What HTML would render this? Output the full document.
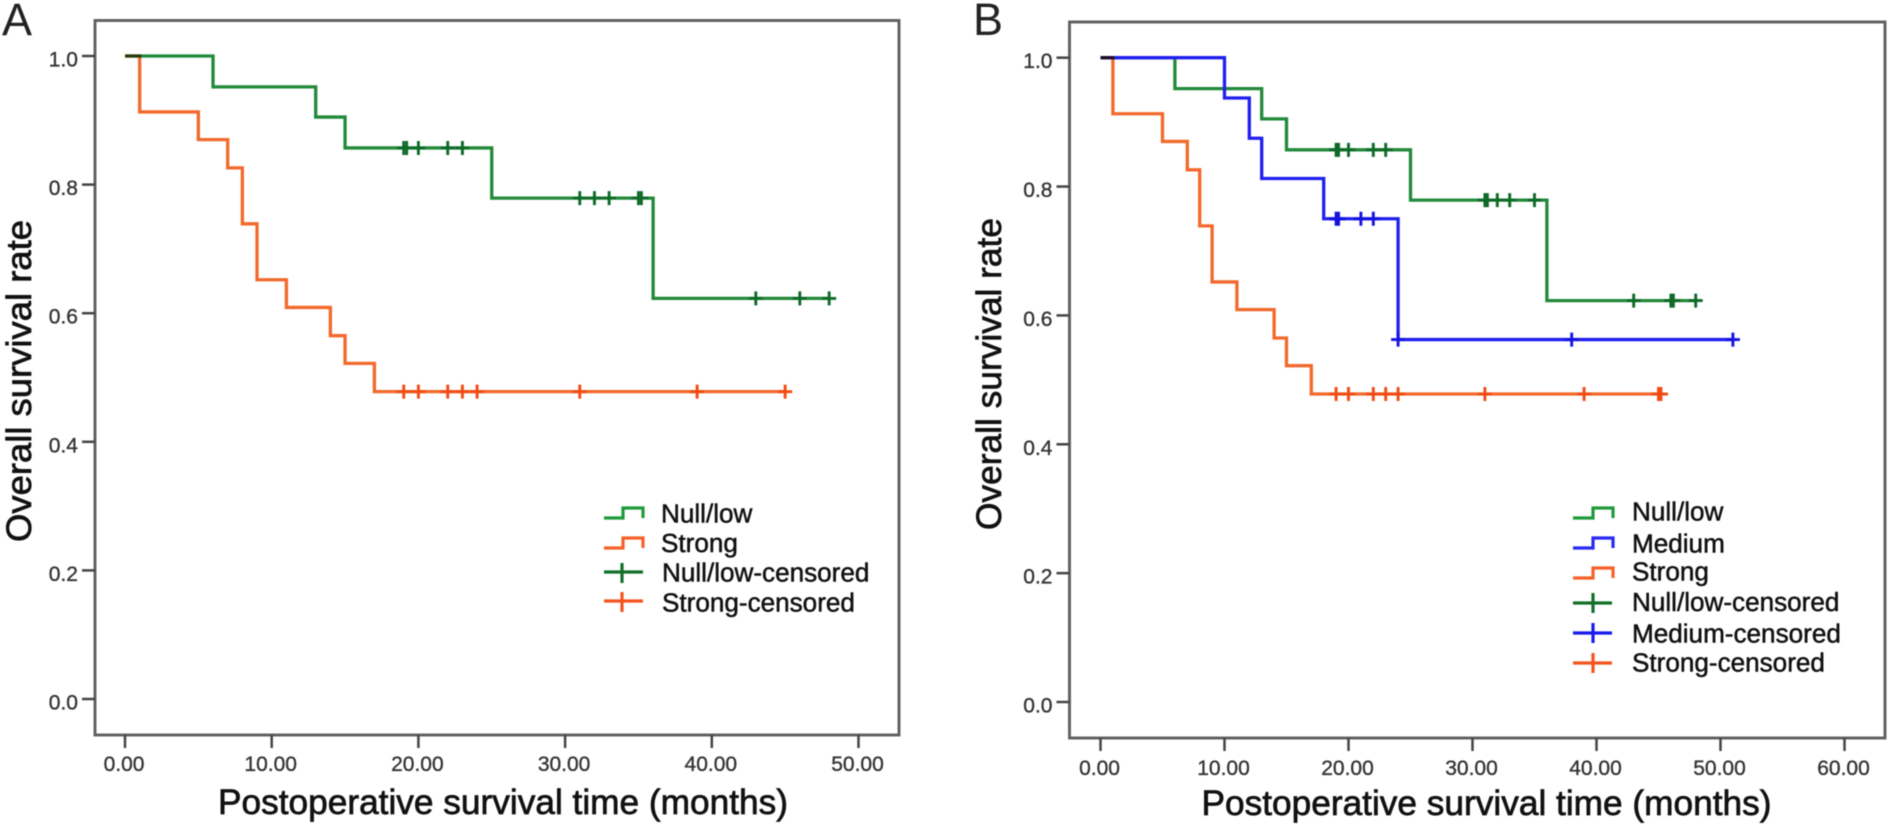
<!DOCTYPE html>
<html lang="en">
<head>
<meta charset="utf-8">
<title>Overall survival curves</title>
<style>
html,body{margin:0;padding:0;background:#fff;width:1890px;height:833px;overflow:hidden}
svg{display:block;filter:blur(0.6px)}
text{font-family:"Liberation Sans",Arial,sans-serif}
.tick-label{font-size:21px;fill:#333;stroke:#333;stroke-width:.35px}
.axis-title{font-size:35px;fill:#111;stroke:#111;stroke-width:.7px}
.legend-text{font-size:26.1px;fill:#111;stroke:#111;stroke-width:.5px}
.panel-letter{font-size:45px;fill:#222}
.frame{fill:#fff;stroke:#5f5f5f;stroke-width:2.9}
.legend-step{fill:none;stroke-width:3.2}
</style>
</head>
<body>
<svg id="chart" xmlns="http://www.w3.org/2000/svg" width="1890" height="833" viewBox="0 0 1890 833">
  <g>
    <text class="panel-letter" x="2" y="35">A</text>
    <rect class="frame" x="95" y="20.5" width="804" height="714.5"/>
    <text class="axis-title" x="218" y="814" textLength="570" lengthAdjust="spacingAndGlyphs">Postoperative survival time (months)</text>
    <text class="axis-title" transform="translate(31 381) rotate(-90)" text-anchor="middle" textLength="322" lengthAdjust="spacingAndGlyphs">Overall survival rate</text>
  </g>
  <g>
    <path class="legend-step" stroke="#1f9a3a" d="M604 518H623V508H643V518"/>
    <text class="legend-text" x="661" y="522.5">Null/low</text>
    <path class="legend-step" stroke="#f4622a" d="M604 548H623V538H643V548"/>
    <text class="legend-text" x="661" y="552">Strong</text>
    <path class="legend-step" stroke="#12702a" d="M604 572H643M622 563V583"/>
    <text class="legend-text" x="662" y="581.5">Null/low-censored</text>
    <path class="legend-step" stroke="#f4551f" d="M604 601H643M622 592V612"/>
    <text class="legend-text" x="662" y="611.5">Strong-censored</text>
  </g>
  <g>
    <text class="panel-letter" x="973" y="35">B</text>
    <rect class="frame" x="1069.5" y="22" width="815.5" height="716"/>
    <text class="axis-title" x="1201.5" y="815" textLength="570" lengthAdjust="spacingAndGlyphs">Postoperative survival time (months)</text>
    <text class="axis-title" transform="translate(1001 374) rotate(-90)" text-anchor="middle" textLength="312" lengthAdjust="spacingAndGlyphs">Overall survival rate</text>
  </g>
  <g>
    <path class="legend-step" stroke="#1f9a3a" d="M1573 518H1593V508H1613V518"/>
    <text class="legend-text" x="1632" y="520.5">Null/low</text>
    <path class="legend-step" stroke="#2a2af0" d="M1573 548H1593V538H1613V548"/>
    <text class="legend-text" x="1632" y="552.5">Medium</text>
    <path class="legend-step" stroke="#f4622a" d="M1573 578H1593V568H1613V578"/>
    <text class="legend-text" x="1632" y="580.5">Strong</text>
    <path class="legend-step" stroke="#12702a" d="M1573 603H1612M1593 593V613"/>
    <text class="legend-text" x="1632" y="611">Null/low-censored</text>
    <path class="legend-step" stroke="#1a1aee" d="M1573 633H1612M1593 623V643"/>
    <text class="legend-text" x="1632" y="642.5">Medium-censored</text>
    <path class="legend-step" stroke="#f4551f" d="M1573 663H1612M1593 653V673"/>
    <text class="legend-text" x="1632" y="671.5">Strong-censored</text>
  </g>
</svg>
<script>
// Axis ticks
const yTicks = [0, 0.2, 0.4, 0.6, 0.8, 1.0];
const yTickLabels = ["0.0", "0.2", "0.4", "0.6", "0.8", "1.0"];
const xTicksA = [0, 10, 20, 30, 40, 50];
const xTickLabelsA = ["0.00", "10.00", "20.00", "30.00", "40.00", "50.00"];
const xTicksB = [0, 10, 20, 30, 40, 50, 60];
const xTickLabelsB = ["0.00", "10.00", "20.00", "30.00", "40.00", "50.00", "60.00"];

// Panel A: event times (months), survival after each event, censored times
const aNullLowTimes = [6, 13, 15, 25, 36];
const aNullLowSurvival = [0.952, 0.905, 0.857, 0.779, 0.623];
const aNullLowCensored = [19, 19.2, 20, 22, 23, 31, 32, 33, 35, 35.2, 43, 46, 48];
const aStrongTimes = [1, 5, 7, 8, 9, 11, 14, 15, 17];
const aStrongSurvival = [0.913, 0.870, 0.826, 0.739, 0.652, 0.609, 0.565, 0.522, 0.478];
const aStrongCensored = [19, 20, 22, 23, 24, 31, 39, 45];

// Panel B: event times (months), survival after each event, censored times
const bNullLowTimes = [6, 13, 15, 25, 36];
const bNullLowSurvival = [0.952, 0.905, 0.857, 0.779, 0.623];
const bNullLowCensored = [19, 19.2, 20, 22, 23, 31, 31.2, 32, 33, 35, 43, 46, 46.2, 48];
const bMediumTimes = [10, 12, 13, 18, 24];
const bMediumSurvival = [0.9375, 0.875, 0.8125, 0.75, 0.5625];
const bMediumCensored = [19, 19.2, 21, 22, 24, 38, 51];
const bStrongTimes = [1, 5, 7, 8, 9, 11, 14, 15, 17];
const bStrongSurvival = [0.913, 0.870, 0.826, 0.739, 0.652, 0.609, 0.565, 0.522, 0.478];
const bStrongCensored = [19, 20, 22, 23, 24, 31, 39, 45, 45.2];

const SVG_NS = "http://www.w3.org/2000/svg";
const root = document.getElementById("chart");

function scale(origin, pxPerUnit) {
  return function (v) { return origin + pxPerUnit * v; };
}

function survivalAt(t, times, surv) {
  let s = 1;
  for (let i = 0; i < times.length; i++) {
    if (t >= times[i]) s = surv[i];
  }
  return s;
}

function drawAxes(prefix, xScale, yScale, xTicks, xLabels, axisLeft, axisBottom, xLabelBaseline) {
  yTicks.forEach(function (v, i) {
    const y = yScale(v);
    const tick = document.createElementNS(SVG_NS, "line");
    tick.setAttribute("x1", axisLeft - 13);
    tick.setAttribute("x2", axisLeft);
    tick.setAttribute("y1", y);
    tick.setAttribute("y2", y);
    tick.setAttribute("stroke", "#444");
    tick.setAttribute("stroke-width", "2.5");
    
    
    root.appendChild(tick);
    const label = document.createElementNS(SVG_NS, "text");
    label.setAttribute("class", "tick-label");
    label.setAttribute("x", axisLeft - 17);
    label.setAttribute("y", y + 10.5);
    label.setAttribute("text-anchor", "end");
    
    
    label.textContent = yTickLabels[i];
    root.appendChild(label);
  });
  xTicks.forEach(function (v, i) {
    const x = xScale(v);
    const tick = document.createElementNS(SVG_NS, "line");
    tick.setAttribute("x1", x);
    tick.setAttribute("x2", x);
    tick.setAttribute("y1", axisBottom);
    tick.setAttribute("y2", axisBottom + 13);
    tick.setAttribute("stroke", "#444");
    tick.setAttribute("stroke-width", "2.5");
    
    
    root.appendChild(tick);
    const label = document.createElementNS(SVG_NS, "text");
    label.setAttribute("class", "tick-label");
    label.setAttribute("x", x - 1);
    label.setAttribute("y", xLabelBaseline);
    label.setAttribute("text-anchor", "middle");
    
    
    label.textContent = xLabels[i];
    root.appendChild(label);
  });
}

function drawSeries(seriesName, times, surv, censored, xScale, yScale, lineColor, markColor, blend) {
  const end = Math.max.apply(null, censored.concat(times));
  let d = "M" + xScale(0) + " " + yScale(1);
  times.forEach(function (t, i) {
    d += "H" + xScale(t) + "V" + yScale(surv[i]);
  });
  d += "H" + xScale(end);
  const line = document.createElementNS(SVG_NS, "path");
  line.setAttribute("d", d);
  line.setAttribute("fill", "none");
  line.setAttribute("stroke", lineColor);
  line.setAttribute("stroke-width", "3.3");
  if (blend) line.style.mixBlendMode = "multiply";
  
  
  root.appendChild(line);
  censored.forEach(function (t) {
    const x = xScale(t);
    const y = yScale(survivalAt(t, times, surv));
    const mark = document.createElementNS(SVG_NS, "path");
    mark.setAttribute("d", "M" + (x - 7) + " " + y + "H" + (x + 7) + "M" + x + " " + (y - 7) + "V" + (y + 7));
    mark.setAttribute("fill", "none");
    mark.setAttribute("stroke", markColor);
    mark.setAttribute("stroke-width", "2.9");
    
    
    root.appendChild(mark);
  });
}

const xA = scale(125, 14.67);
const yA = scale(699, -643);
const xB = scale(1100.5, 12.4);
const yB = scale(702, -644.3);

drawAxes("a", xA, yA, xTicksA, xTickLabelsA, 95, 735, 771);
drawAxes("b", xB, yB, xTicksB, xTickLabelsB, 1069.5, 738, 775);

const GREEN = "#23893a", GREEN_MARK = "#0e6a28";
const ORANGE = "#f2692c", ORANGE_MARK = "#f04c14";
const BLUE = "#2020ee", BLUE_MARK = "#1414e0";

drawSeries("a-null-low", aNullLowTimes, aNullLowSurvival, aNullLowCensored, xA, yA, GREEN, GREEN_MARK, false);
drawSeries("a-strong", aStrongTimes, aStrongSurvival, aStrongCensored, xA, yA, ORANGE, ORANGE_MARK, true);
drawSeries("b-null-low", bNullLowTimes, bNullLowSurvival, bNullLowCensored, xB, yB, GREEN, GREEN_MARK, false);
drawSeries("b-medium", bMediumTimes, bMediumSurvival, bMediumCensored, xB, yB, BLUE, BLUE_MARK, false);
drawSeries("b-strong", bStrongTimes, bStrongSurvival, bStrongCensored, xB, yB, ORANGE, ORANGE_MARK, true);
</script>
</body>
</html>
